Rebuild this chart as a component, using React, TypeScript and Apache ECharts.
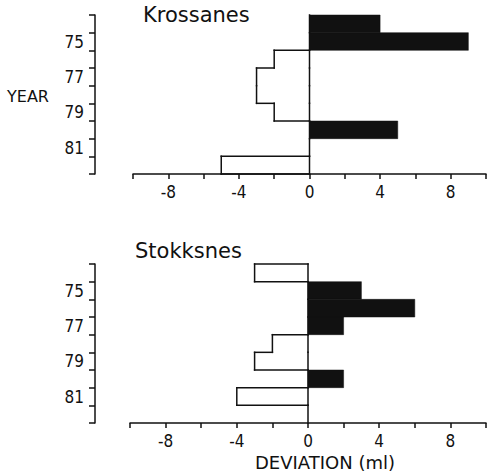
import React, { useEffect, useRef } from "react";
import * as echarts from "echarts";

const years = ["74", "75", "76", "77", "78", "79", "80", "81", "82"];
const krossanes = [4, 9, -2, -3, -3, -2, 5, 0, -5];
const stokksnes = [-3, 3, 6, 2, -2, -3, 2, -4, 0];
const xMin = -10;
const xMax = 10;
const xStep = 2;
const shownTicks = [-8, -4, 0, 4, 8];

const narrowFont = "'Liberation Sans Narrow', 'DejaVu Sans Condensed', 'DejaVu Sans', sans-serif";
const titleFont = "'DejaVu Sans', sans-serif";
const INK = "#111";
const LW = 1.5;

function makeRenderItem(values: number[]) {
  return (params: any, api: any) => {
    const i = params.dataIndex;
    const v = values[i];
    const cat = api.value(1);
    const bandH = api.size([0, 1])[1];
    const c0 = api.coord([0, cat]);
    const cv = api.coord([v, cat]);
    const x0 = c0[0];
    const xv = cv[0];
    const yTop = c0[1] - bandH / 2;
    const yBot = c0[1] + bandH / 2;
    const neg = (n: number) => Math.min(n, 0);
    const xOf = (n: number) => api.coord([n, cat])[0];
    const stroke = { stroke: INK, lineWidth: LW, lineCap: "square" };
    const children: any[] = [];
    children.push({ type: "line", shape: { x1: x0, y1: yTop, x2: x0, y2: yBot }, style: stroke });
    if (v > 0) {
      children.push({
        type: "rect",
        shape: { x: x0, y: yTop, width: xv - x0, height: bandH },
        style: { fill: INK, stroke: INK, lineWidth: 0.5 },
      });
    } else if (v < 0) {
      children.push({
        type: "line",
        shape: { x1: xv, y1: yTop, x2: xv, y2: yBot },
        style: stroke,
      });
    }
    const prev = i > 0 ? values[i - 1] : 0;
    if (neg(prev) !== neg(v)) {
      children.push({
        type: "line",
        shape: { x1: xOf(neg(prev)), y1: yTop, x2: xOf(neg(v)), y2: yTop },
        style: stroke,
      });
    }
    if (i === values.length - 1 && v < 0) {
      children.push({
        type: "line",
        shape: { x1: xv, y1: yBot, x2: x0, y2: yBot },
        style: stroke,
      });
    }
    return { type: "group", children };
  };
}

function xLabel(v: number) {
  if (shownTicks.indexOf(v) < 0) return "";
  return v < 0 ? "-" + Math.abs(v) : String(v);
}

export default function App() {
  const ref = useRef<HTMLDivElement>(null);
  useEffect(() => {
    if (!ref.current) return;
    const chart = echarts.init(ref.current, undefined, { renderer: "svg" });
    const grids = [
      { left: 133, right: 1, top: 15, height: 159 },
      { left: 130, right: 3, top: 264, height: 159 },
    ];
    const offsets = [38, 35];
    const seriesData = [krossanes, stokksnes];
    const option: any = {
      animation: false,
      backgroundColor: "#fff",
      grid: grids,
      xAxis: grids.map((_, gi) => ({
        type: "value",
        gridIndex: gi,
        min: xMin,
        max: xMax,
        interval: xStep,
        position: "bottom",
        axisLine: { show: true, onZero: false, lineStyle: { color: INK, width: LW } },
        axisTick: { show: true, length: 5, lineStyle: { color: INK, width: LW } },
        splitLine: { show: false },
        axisLabel: {
          formatter: xLabel,
          margin: 9,
          fontSize: 17,
          fontFamily: narrowFont,
          color: INK,
          showMinLabel: true,
          showMaxLabel: true,
        },
      })),
      yAxis: grids.map((_, gi) => ({
        type: "category",
        gridIndex: gi,
        data: years,
        inverse: true,
        offset: offsets[gi],
        boundaryGap: true,
        axisLine: { show: true, onZero: false, lineStyle: { color: INK, width: LW } },
        axisTick: { show: true, interval: 0, length: 6, lineStyle: { color: INK, width: LW } },
        splitLine: { show: false },
        axisLabel: {
          interval: (idx: number) => idx % 2 === 1,
          margin: 11,
          fontSize: 17,
          fontFamily: narrowFont,
          color: INK,
        },
      })),
      series: seriesData.map((vals, gi) => ({
        type: "custom",
        xAxisIndex: gi,
        yAxisIndex: gi,
        clip: false,
        renderItem: makeRenderItem(vals),
        encode: { x: 0, y: 1 },
        data: vals.map((v, i) => [v, i]),
      })),
      graphic: [
        {
          type: "text",
          left: 143,
          top: 4,
          style: { text: "Krossanes", font: `21px ${titleFont}`, fill: INK },
        },
        {
          type: "text",
          left: 135,
          top: 240,
          style: { text: "Stokksnes", font: `21px ${titleFont}`, fill: INK },
        },
        {
          type: "text",
          left: 7,
          top: 88,
          style: { text: "YEAR", font: `16px ${titleFont}`, fill: INK },
        },
        {
          type: "text",
          left: 255,
          top: 453,
          style: { text: "DEVIATION (ml)", font: `18px ${titleFont}`, fill: INK },
        },
      ],
    };
    chart.setOption(option);
    return () => chart.dispose();
  }, []);
  return (
    <div
      ref={ref}
      style={{ position: "fixed", left: 0, top: 0, width: 489, height: 471, background: "#fff" }}
    />
  );
}
